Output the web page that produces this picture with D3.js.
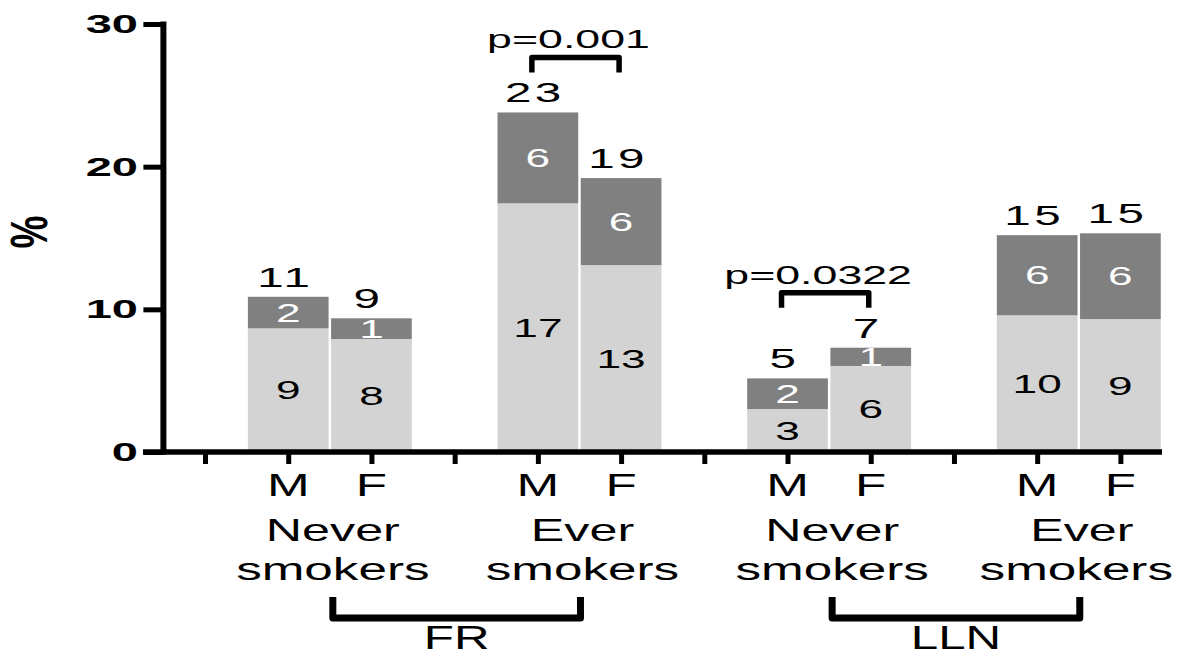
<!DOCTYPE html>
<html>
<head>
<meta charset="utf-8">
<script src="https://cdn.jsdelivr.net/npm/d3@7"></script>
<style>
  body { margin: 0; background: #fff; }
  svg { display: block; font-family: "Liberation Sans", Arial, sans-serif; }
</style>
</head>
<body>
<svg id="chart" width="1177" height="657"></svg>
<script>
// values (percent)
const groupLabels = [["Never", "smokers"], ["Ever", "smokers"], ["Never", "smokers"], ["Ever", "smokers"]];
const sexLabels = ["M", "F"];
const lightValues = [8.67, 7.92, 17.43, 13.1, 3.01, 6.03, 9.58, 9.32];
const darkValues = [2.21, 1.45, 6.37, 6.1, 2.15, 1.28, 5.62, 6.01];
const lightLabels = ["9", "8", "17", "13", "3", "6", "10", "9"];
const darkLabels = ["2", "1", "6", "6", "2", "1", "6", "6"];
const totalLabels = ["11", "9", "23", "19", "5", "7", "15", "15"];
const criteria = [{ name: "FR", groups: [0, 1] }, { name: "LLN", groups: [2, 3] }];
const pValues = [{ group: 1, text: "p=0.001" }, { group: 2, text: "p=0.0322" }];
const yTicks = [0, 10, 20, 30];

const svg = d3.select("#chart");
const plotLeft = 163.4, plotRight = 1162, plotBottom = 452, plotTop = 24;

// 3 slots per group: spacer, M, F
const slots = [];
groupLabels.forEach((g, i) => {
    slots.push("gap" + i);
    sexLabels.forEach(s => slots.push(s + i));
});

const x = d3.scalePoint().domain(slots).range([plotLeft, plotRight]).padding(0.5);
const y = d3.scaleLinear().domain([0, 30]).range([plotBottom, plotTop]);
const barW = x.step() - 2.5;

const bars = [];
groupLabels.forEach((g, gi) => {
    sexLabels.forEach((s, si) => {
        const i = gi * 2 + si;
        bars.push({
            key: s + gi, light: lightValues[i], dark: darkValues[i],
            lightLabel: lightLabels[i], darkLabel: darkLabels[i], total: totalLabels[i]
        });
    });
});

// stretched text helper (the figure's lettering is wide)
function label(g, txt, cx, cy, size, sx, opts = {}) {
    return g.append("text")
        .attr("transform", `translate(${cx},${cy}) scale(${sx},1)`)
        .attr("text-anchor", opts.anchor || "middle")
        .attr("font-size", size)
        .attr("font-weight", opts.weight || "normal")
        .attr("letter-spacing", opts.spacing || 0)
        .attr("fill", opts.fill || "#000")
        .text(txt);
}

const barG = svg.append("g");
const b = barG.selectAll("g").data(bars).join("g");

b.append("rect")
    .attr("x", d => x(d.key) - barW / 2)
    .attr("width", barW)
    .attr("y", d => y(d.light))
    .attr("height", d => y(0) - y(d.light))
    .attr("fill", "#d3d3d3");

b.append("rect")
    .attr("x", d => x(d.key) - barW / 2)
    .attr("width", barW)
    .attr("y", d => y(d.light + d.dark))
    .attr("height", d => y(d.light) - y(d.light + d.dark))
    .attr("fill", "#808080");

const textG = svg.append("g");
bars.forEach(d => {
    const cx = x(d.key);
    label(textG, d.lightLabel, cx, (y(d.light) + y(0)) / 2 + 9, 26, 1.7);
    label(textG, d.darkLabel, cx, (y(d.light + d.dark) + y(d.light)) / 2 + 9, 26, 1.7, { fill: "#fff" });
    label(textG, d.total, cx - 3, y(d.light + d.dark) - 10, 28, 1.7, { spacing: 2 });
});

// axes
const axisG = svg.append("g");
axisG.append("g")
    .attr("transform", `translate(0,${plotBottom})`)
    .call(d3.axisBottom(x).tickSize(12).tickSizeOuter(0).tickFormat(""))
    .call(g => g.select(".domain").remove())
    .call(g => g.selectAll(".tick line").attr("stroke", "#000").attr("stroke-width", 5));

axisG.append("line")
    .attr("x1", 143).attr("x2", plotRight)
    .attr("y1", plotBottom).attr("y2", plotBottom)
    .attr("stroke", "#000").attr("stroke-width", 5.5);

axisG.append("g")
    .attr("transform", `translate(${plotLeft},0)`)
    .call(d3.axisLeft(y).tickValues(yTicks).tickSize(20).tickSizeOuter(0).tickFormat(""))
    .call(g => g.select(".domain").remove())
    .call(g => g.selectAll(".tick line").attr("stroke", "#000").attr("stroke-width", 5));

axisG.append("line")
    .attr("x1", plotLeft).attr("x2", plotLeft)
    .attr("y1", plotTop - 2.5).attr("y2", plotBottom + 2.5)
    .attr("stroke", "#000").attr("stroke-width", 6);

yTicks.forEach(t => label(axisG, t, 138, y(t) + 9, 25, 1.88, { anchor: "end", weight: "bold" }));

svg.append("text")
    .attr("transform", `translate(47,232) scale(1.4,1) rotate(-90)`)
    .attr("text-anchor", "middle")
    .attr("font-size", 37)
    .attr("font-weight", "bold")
    .text("%");

// M / F and group names, kept inside the right edge
const catG = svg.append("g");
function fitLabel(txt, mid, cy, sx) {
    const t = label(catG, txt, mid, cy, 32, sx);
    const half = t.node().getComputedTextLength() * sx / 2;
    const cx = Math.min(mid, 1173 - half);
    t.attr("transform", `translate(${cx},${cy}) scale(${sx},1)`);
}
groupLabels.forEach((g, gi) => {
    sexLabels.forEach(s => label(catG, s, x(s + gi), 496, 32, 1.6));
    const mid = (x("M" + gi) + x("F" + gi)) / 2 + 3;
    fitLabel(g[0], mid, 541, 1.57);
    fitLabel(g[1], mid, 580, 1.6);
});

// criteria brackets
criteria.forEach(c => {
    const x1 = (x("M" + c.groups[0]) + x("F" + c.groups[0])) / 2 + 3;
    const x2 = (x("M" + c.groups[1]) + x("F" + c.groups[1])) / 2 + 1;
    catG.append("path")
        .attr("d", `M${x1},597 V618 H${x2} V597`)
        .attr("fill", "none").attr("stroke", "#000")
        .attr("stroke-width", 7).attr("stroke-linejoin", "round");
    label(catG, c.name, (x1 + x2) / 2, 649, 34, 1.45);
});

// p-value brackets
pValues.forEach(p => {
    const tot = [0, 1].map(si => lightValues[p.group * 2 + si] + darkValues[p.group * 2 + si]);
    const yb = y(d3.max(tot)) - 40;
    const x1 = x("M" + p.group) - 6, x2 = x("F" + p.group) - 2;
    svg.append("path")
        .attr("d", `M${x1},${yb} V${yb - 15} H${x2} V${yb}`)
        .attr("fill", "none").attr("stroke", "#000")
        .attr("stroke-width", 5.5).attr("stroke-linejoin", "round");
    label(svg, p.text, (x1 + x2) / 2 - 7, yb - 24, 26, 1.72);
});
</script>
</body>
</html>
